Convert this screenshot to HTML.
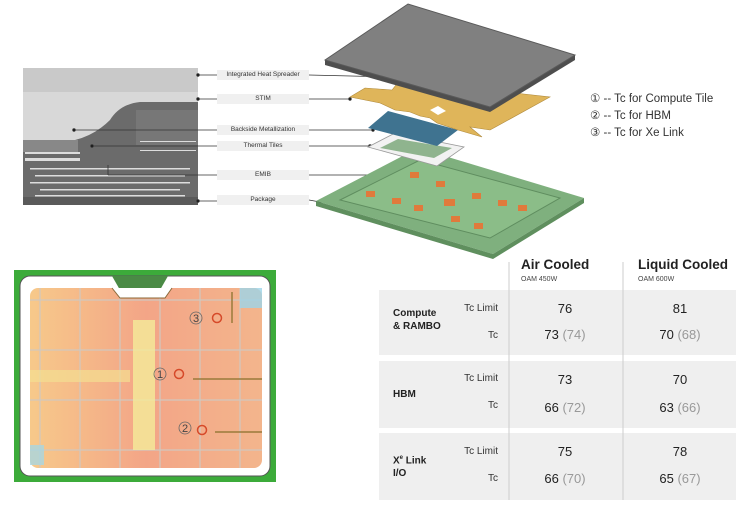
<!DOCTYPE html>
<html><head><meta charset="utf-8"><style>
body{margin:0;width:750px;height:506px;background:#fff;position:relative;overflow:hidden;font-family:"Liberation Sans",sans-serif}
.lbl{position:absolute;left:217px;width:92px;height:10px;background:#f0f0f0;font-size:6.5px;color:#333;text-align:center;line-height:10px}
.t{position:absolute;font-size:12px;color:#222}
</style></head><body>
<svg width="750" height="506" style="position:absolute;left:0;top:0">
<defs>
<linearGradient id="hm" x1="0" x2="1"><stop offset="0" stop-color="#f7c98a"/><stop offset=".5" stop-color="#f3a587"/><stop offset="1" stop-color="#f3b58c"/></linearGradient>
<pattern id="grid" width="40" height="50" patternUnits="userSpaceOnUse"><rect width="40" height="50" fill="none" stroke="#cfc8c0" stroke-width="1.2"/></pattern>
</defs>
<!-- cross-section -->
<rect x="23" y="68" width="175" height="24" fill="#c9c9c9"/>
<rect x="23" y="92" width="175" height="113" fill="#6b6b6b"/>
<path d="M23 92 H198 V102 H140 Q120 104 110 120 Q95 135 75 140 L23 140 Z" fill="#d8d8d8"/>
<rect x="23" y="140" width="55" height="12" fill="#888"/>
<rect x="136" y="110" width="62" height="35" fill="#777"/>
<g fill="#ddd"><rect x="25" y="152" width="55" height="2"/><rect x="25" y="158" width="55" height="3"/><rect x="30" y="168" width="160" height="1.5"/><rect x="35" y="175" width="150" height="1.5"/><rect x="30" y="182" width="160" height="1.5"/><rect x="40" y="189" width="140" height="1.5"/><rect x="35" y="195" width="150" height="1.5"/><rect x="140" y="141" width="56" height="1"/><rect x="140" y="150" width="56" height="1"/></g>
<rect x="23" y="197" width="175" height="8" fill="#5a5a5a"/>
<g stroke="#333" stroke-width="0.8" fill="#111">
<line x1="198" y1="75" x2="217" y2="75"/><circle cx="198" cy="75" r="1.3"/>
<line x1="198" y1="99" x2="217" y2="99"/><circle cx="198" cy="99" r="1.3"/>
<line x1="74" y1="130" x2="217" y2="130"/><circle cx="74" cy="130" r="1.3"/>
<line x1="92" y1="146" x2="217" y2="146"/><circle cx="92" cy="146" r="1.3"/>
<line x1="108" y1="165" x2="108" y2="175"/><line x1="108" y1="175" x2="217" y2="175"/>
<line x1="198" y1="201" x2="217" y2="201"/><circle cx="198" cy="201" r="1.3"/>
<line x1="309" y1="75" x2="434" y2="78"/><circle cx="434" cy="78" r="1.3"/>
<line x1="309" y1="99" x2="350" y2="99"/><circle cx="350" cy="99" r="1.3"/>
<line x1="309" y1="130" x2="373" y2="130"/><circle cx="373" cy="130" r="1.3"/>
<line x1="309" y1="146" x2="370" y2="146"/><circle cx="370" cy="146" r="1.3"/>
<line x1="309" y1="175" x2="412" y2="175"/><circle cx="412" cy="175" r="1.3"/>
<line x1="309" y1="200" x2="320" y2="202"/><circle cx="320" cy="202" r="1.3"/>
</g>
<!-- package -->
<polygon points="316,201 418,148 584,198 493,254" fill="#7fb07e"/>
<polygon points="316,201 493,254 584,198 584,203 493,259 316,206" fill="#5f8f5e"/>
<polygon points="340,200 420,160 560,198 490,238" fill="#8bbd88" stroke="#5f8d5f" stroke-width="1"/>
<g fill="#e07a3c">
<rect x="410" y="172" width="9" height="6"/><rect x="436" y="181" width="9" height="6"/><rect x="366" y="191" width="9" height="6"/><rect x="392" y="198" width="9" height="6"/><rect x="414" y="205" width="9" height="6"/><rect x="444" y="199" width="11" height="7"/><rect x="472" y="193" width="9" height="6"/><rect x="498" y="200" width="9" height="6"/><rect x="518" y="205" width="9" height="6"/><rect x="451" y="216" width="9" height="6"/><rect x="474" y="223" width="9" height="6"/></g>
<!-- thermal tiles -->
<polygon points="368,147 395,133 464,147 437,166" fill="#f2f2f2" stroke="#999" stroke-width="0.8"/>
<polygon points="380,148 398,139 452,148 434,158" fill="#8fb48e"/>
<!-- blue -->
<polygon points="368,128 388,111 458,130 437,146" fill="#3f7390"/>
<!-- stim -->
<polygon points="350,97 365,88 392,90 400,80 550,97 490,130 470,127 482,137 458,130 437,123 430,118 420,116 410,112 395,110 380,103" fill="#dfb55a" stroke="#b08a3c" stroke-width="0.6"/>
<polygon points="430,110 438,106 446,111 438,115" fill="#fff"/>
<!-- IHS -->
<polygon points="325,60 408,4 575,55 575,60 490,112 325,65" fill="#4e4e4e"/>
<polygon points="325,60 408,4 575,55 490,107" fill="#808080" stroke="#5a5a5a" stroke-width="1"/>
<!-- thermal map -->
<rect x="14" y="270" width="262" height="212" fill="#3cab3a"/>
<rect x="20" y="276" width="250" height="200" rx="10" fill="#fff" stroke="#555" stroke-width="1"/>
<path d="M112 276 L120 290 H160 L168 276 Z" fill="#4a8a45"/>
<rect x="30" y="288" width="232" height="180" rx="8" fill="url(#hm)"/>
<rect x="30" y="288" width="232" height="180" rx="8" fill="url(#grid)"/>
<rect x="133" y="320" width="22" height="130" fill="#f4ec9a" opacity=".8"/>
<rect x="30" y="370" width="100" height="12" fill="#f4de92" opacity=".7"/>
<rect x="240" y="288" width="22" height="20" fill="#9cd4e8" opacity=".8"/>
<rect x="30" y="445" width="14" height="20" fill="#a8d6e0" opacity=".8"/>
<path d="M112 288 L120 298 H165 L172 288" fill="#fff" stroke="#8a6a3a" stroke-width="1"/>
<g fill="none" stroke="#d64a2a" stroke-width="1.5"><circle cx="217" cy="318" r="4.5"/><circle cx="179" cy="374" r="4.5"/><circle cx="202" cy="430" r="4.5"/></g>
<g stroke="#9a7a3a" stroke-width="1.5"><line x1="232" y1="292" x2="232" y2="323"/><line x1="193" y1="379" x2="262" y2="379"/><line x1="215" y1="432" x2="262" y2="432"/></g>
<g font-size="11" fill="#444" font-family="Liberation Sans" text-anchor="middle"><circle cx="196" cy="318" r="6" fill="none" stroke="#666" stroke-width=".8"/><text x="196" y="322">3</text><circle cx="160" cy="374" r="6" fill="none" stroke="#666" stroke-width=".8"/><text x="160" y="378">1</text><circle cx="185" cy="428" r="6" fill="none" stroke="#666" stroke-width=".8"/><text x="185" y="432">2</text></g>
<!-- table -->
<rect x="379" y="290" width="357" height="65" fill="#efefef"/>
<rect x="379" y="361" width="357" height="67" fill="#efefef"/>
<rect x="379" y="433" width="357" height="67" fill="#efefef"/>
<line x1="509" y1="262" x2="509" y2="500" stroke="#ccc" stroke-width="1"/>
<line x1="623" y1="262" x2="623" y2="500" stroke="#ccc" stroke-width="1"/>
</svg>
<div style="position:absolute;left:590px;top:91px;font-size:11.5px;color:#333;line-height:17px">① -- Tc for Compute Tile<br>② -- Tc for HBM<br>③ -- Tc for Xe Link</div>
<div class="lbl" style="top:70px">Integrated Heat Spreader</div>
<div class="lbl" style="top:94px">STIM</div>
<div class="lbl" style="top:125px">Backside Metallization</div>
<div class="lbl" style="top:141px">Thermal Tiles</div>
<div class="lbl" style="top:170px">EMIB</div>
<div class="lbl" style="top:195px">Package</div>
<div class="t" style="left:521px;top:257px;font-size:13.5px;font-weight:bold">Air Cooled</div>
<div class="t" style="left:521px;top:276px;font-size:7px;color:#444">OAM 450W</div>
<div class="t" style="left:638px;top:257px;font-size:13.5px;font-weight:bold">Liquid Cooled</div>
<div class="t" style="left:638px;top:276px;font-size:7px;color:#444">OAM 600W</div>
<div class="t" style="left:393px;top:307px;font-size:10px;font-weight:bold;line-height:13px">Compute<br>&amp; RAMBO</div>
<div class="t" style="left:393px;top:389px;font-size:10px;font-weight:bold">HBM</div>
<div class="t" style="left:393px;top:452px;font-size:10px;font-weight:bold;line-height:13px">X<sup style="font-size:6px">e</sup> Link<br>I/O</div>
<div class="t" style="left:430px;top:303px;width:68px;text-align:right;font-size:10px;color:#333">Tc Limit</div>
<div class="t" style="left:430px;top:330px;width:68px;text-align:right;font-size:10px;color:#333">Tc</div>
<div class="t" style="left:430px;top:373px;width:68px;text-align:right;font-size:10px;color:#333">Tc Limit</div>
<div class="t" style="left:430px;top:400px;width:68px;text-align:right;font-size:10px;color:#333">Tc</div>
<div class="t" style="left:430px;top:446px;width:68px;text-align:right;font-size:10px;color:#333">Tc Limit</div>
<div class="t" style="left:430px;top:473px;width:68px;text-align:right;font-size:10px;color:#333">Tc</div>
<div class="t" style="left:515px;top:301px;width:100px;text-align:center;font-size:13px">76</div>
<div class="t" style="left:515px;top:327px;width:100px;text-align:center;font-size:13px">73 <span style="color:#999">(74)</span></div>
<div class="t" style="left:515px;top:372px;width:100px;text-align:center;font-size:13px">73</div>
<div class="t" style="left:515px;top:400px;width:100px;text-align:center;font-size:13px">66 <span style="color:#999">(72)</span></div>
<div class="t" style="left:515px;top:444px;width:100px;text-align:center;font-size:13px">75</div>
<div class="t" style="left:515px;top:471px;width:100px;text-align:center;font-size:13px">66 <span style="color:#999">(70)</span></div>
<div class="t" style="left:630px;top:301px;width:100px;text-align:center;font-size:13px">81</div>
<div class="t" style="left:630px;top:327px;width:100px;text-align:center;font-size:13px">70 <span style="color:#999">(68)</span></div>
<div class="t" style="left:630px;top:372px;width:100px;text-align:center;font-size:13px">70</div>
<div class="t" style="left:630px;top:400px;width:100px;text-align:center;font-size:13px">63 <span style="color:#999">(66)</span></div>
<div class="t" style="left:630px;top:444px;width:100px;text-align:center;font-size:13px">78</div>
<div class="t" style="left:630px;top:471px;width:100px;text-align:center;font-size:13px">65 <span style="color:#999">(67)</span></div>
</body></html>
